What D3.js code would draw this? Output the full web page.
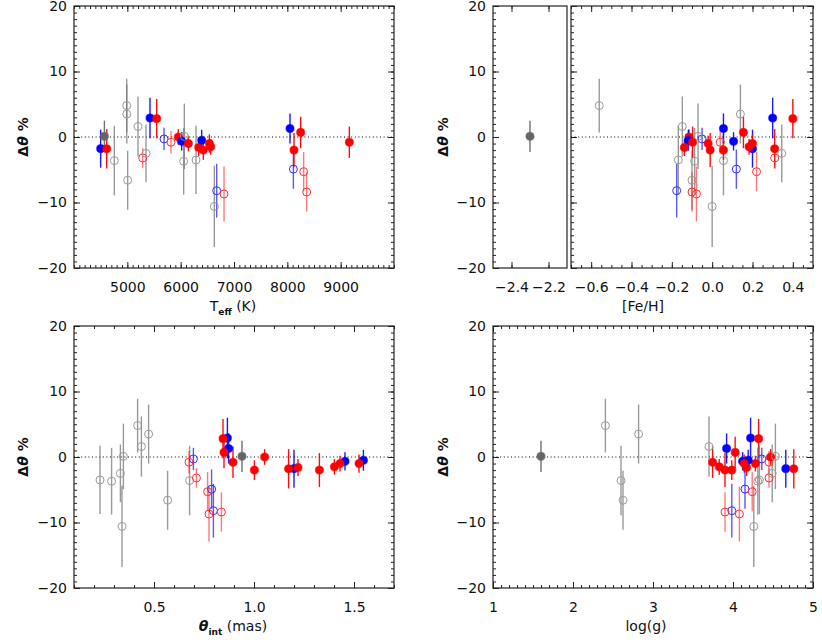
<!DOCTYPE html>
<html>
<head>
<meta charset="utf-8">
<title>delta theta vs stellar parameters</title>
<script src="https://d3js.org/d3.v7.min.js"></script>
<style>
  body { margin: 0; background: #fff; }
  text { font-family: "DejaVu Sans", sans-serif; fill: #111; }
</style>
</head>
<body>
<script>

// one entry per star, same order in every array
var teff   = [4500, 4613, 4570, 4756, 4988, 4990, 5006, 5200, 5288, 5350, 5425, 5550,
              5688, 5819, 5956, 6019, 6069, 6056, 6144, 6288, 6338, 6394, 6425, 6538,
              6563, 6631, 6675, 6813, 8050, 8113, 8125, 8250, 8306, 8363, 9163];
var feh    = [0.20, 0.31, -2.30, 0.056, -0.56, 0.14, -0.10, -0.148, 0.31, 0.345, 0.30, 0.40,
              -0.05, 0.04, -0.115, 0.106, -0.07, -0.087, -0.02, -0.168, -0.138, -0.118, 0.056, 0.20,
              0.183, 0.0, -0.176, -0.078, 0.056, 0.12, -0.01, 0.155, 0.22, -0.10, -0.097];
var thetaInt = [1.20, 1.173, 0.94, 0.678, 0.418, 0.473, 0.568, 0.437, 0.712, 0.332, 0.867, 0.845,
              0.697, 0.675, 1.053, 1.455, 0.347, 0.288, 1.43, 0.23, 1.22, 1.547, 1.002, 1.525,
              1.402, 0.34, 0.797, 0.775, 0.873, 0.788, 1.327, 0.85, 0.768, 0.837, 0.895];
var logg   = [4.66, 4.76, 1.60, 2.60, 2.405, 2.82, 2.625, 3.70, 4.45, 4.49, 4.22, 4.32,
              4.36, 4.45, 4.47, 4.12, 4.53, 4.31, 4.28, 4.33, 4.17, 4.19, 3.985, 4.14,
              3.828, 4.26, 3.985, 4.08, 3.92, 4.15, 3.90, 4.027, 4.24, 3.90, 3.745];
var dtheta = [-1.78, -1.8, 0.1, -3.6, 4.8, 3.5, -6.6, 1.6, -3.2, -2.5, 2.9, 2.8,
              -0.3, -0.8, 0.0, -0.66, 0.1, -3.7, -1.0, -3.5, -1.6, -0.5, -2.0, -1.0,
              -1.5, -10.6, -8.2, -8.7, 1.3, -4.9, -2.0, 0.7, -5.3, -8.4, -0.8];
var dthetaErr = [2.9, 3.0, 2.4, 5.3, 4.1, 4.5, 4.5, 4.6, 1.5, 4.4, 3.1, 3.0,
              1.7, 1.7, 1.2, 1.4, 5.0, 5.1, 1.2, 5.2, 1.3, 1.6, 1.5, 1.4,
              1.2, 6.2, 4.1, 4.2, 2.3, 3.0, 2.6, 2.4, 3.0, 3.0, 2.4];
// rf = red filled, bf = blue filled, gf = grey filled, ro/bo/go = open symbols
var kind   = ["bf", "rf", "gf", "go", "go", "go", "go", "go", "ro", "go", "bf", "rf",
              "bo", "ro", "rf", "bf", "go", "go", "rf", "go", "rf", "bf", "rf", "rf",
              "rf", "go", "bo", "ro", "bf", "bo", "rf", "rf", "ro", "ro", "rf"];

var dTicks = [-20, -10, 0, 10, 20];
var teffTicks = [5000, 6000, 7000, 8000, 9000];
var fehTicksLow = [-2.4, -2.2];
var fehTicksHigh = [-0.6, -0.4, -0.2, 0.0, 0.2, 0.4];
var thetaTicks = [0.5, 1.0, 1.5];
var loggTicks = [1, 2, 3, 4, 5];

var symbol = {
  rf: {fill: "#ff0000", stroke: "#ff0000", bar: "#ff0000", barOp: 0.95},
  bf: {fill: "#0000ff", stroke: "#0000ff", bar: "#0000ff", barOp: 0.9},
  gf: {fill: "#666666", stroke: "#666666", bar: "#707070", barOp: 1},
  ro: {fill: "none", stroke: "#ff3030", bar: "#ff2020", barOp: 0.6},
  bo: {fill: "none", stroke: "#3030ff", bar: "#2020ff", barOp: 0.75},
  go: {fill: "none", stroke: "#999999", bar: "#777777", barOp: 0.75}
};

var svg = d3.select("body").append("svg")
  .attr("width", 822)
  .attr("height", 640);

var idx = d3.range(teff.length);

function minorTicks(domain, step) {
  return d3.range(Math.ceil(domain[0] / step - 1e-6), Math.floor(domain[1] / step + 1e-6) + 1)
    .map(function(i) { return i * step; });
}

// one box of the figure: frame, inward ticks on all sides, points
function panel(opt) {
  var x = d3.scaleLinear().domain(opt.domain).range([opt.left, opt.right]);
  var y = d3.scaleLinear().domain([-20, 20]).range([opt.bottom, opt.top]);
  var g = svg.append("g").attr("color", "#222");
  var minX = minorTicks(opt.domain, opt.minor);
  var minY = minorTicks([-20, 20], 1);

  function axis(gen, tr) {
    var a = g.append("g").attr("transform", tr).call(gen);
    a.select(".domain").remove();
    a.selectAll("line").attr("stroke-width", 1);
    a.selectAll("text").style("font-size", "14px").attr("fill", "#111");
    return a;
  }

  // bottom
  axis(d3.axisBottom(x).tickValues(opt.ticks).tickSize(-6).tickPadding(14)
        .tickFormat(opt.fmt), "translate(0," + opt.bottom + ")");
  axis(d3.axisBottom(x).tickValues(minX).tickSize(-3).tickFormat(""), "translate(0," + opt.bottom + ")");
  // top
  axis(d3.axisTop(x).tickValues(opt.ticks).tickSize(-6).tickFormat(""), "translate(0," + opt.top + ")");
  if (opt.minorTop !== false)
    axis(d3.axisTop(x).tickValues(minX).tickSize(-3).tickFormat(""), "translate(0," + opt.top + ")");
  // left
  if (opt.leftTicks !== false) {
    axis(d3.axisLeft(y).tickValues(dTicks).tickSize(-6).tickPadding(7)
          .tickFormat(opt.yLabels ? d3.format("d") : ""), "translate(" + opt.left + ",0)");
    axis(d3.axisLeft(y).tickValues(minY).tickSize(-3).tickFormat(""), "translate(" + opt.left + ",0)");
  }
  // right
  if (opt.rightTicks !== false) {
    axis(d3.axisRight(y).tickValues(dTicks).tickSize(-6).tickFormat(""), "translate(" + opt.right + ",0)");
    axis(d3.axisRight(y).tickValues(minY).tickSize(-3).tickFormat(""), "translate(" + opt.right + ",0)");
  }

  g.append("rect")
    .attr("x", opt.left).attr("y", opt.top)
    .attr("width", opt.right - opt.left).attr("height", opt.bottom - opt.top)
    .attr("fill", "none").attr("stroke", "#222").attr("stroke-width", 1.2);

  if (opt.zeroLine !== false) {
    g.append("line")
      .attr("x1", opt.left).attr("x2", opt.right)
      .attr("y1", y(0)).attr("y2", y(0))
      .attr("stroke", "#000").attr("stroke-width", 1)
      .attr("stroke-dasharray", "1,2.6");
  }

  var pts = idx.filter(function(i) { return opt.keep(opt.values[i]); });
  var p = g.append("g");

  pts.forEach(function(i) {
    var s = symbol[kind[i]];
    p.append("line")
      .attr("x1", x(opt.values[i])).attr("x2", x(opt.values[i]))
      .attr("y1", y(dtheta[i] - dthetaErr[i])).attr("y2", y(dtheta[i] + dthetaErr[i]))
      .attr("stroke", s.bar).attr("stroke-opacity", s.barOp).attr("stroke-width", 1.4);
  });
  pts.forEach(function(i) {
    var s = symbol[kind[i]];
    p.append("circle")
      .attr("cx", x(opt.values[i])).attr("cy", y(dtheta[i]))
      .attr("r", kind[i].charAt(1) === "f" ? 4.1 : 4)
      .attr("fill", s.fill)
      .attr("stroke", s.stroke)
      .attr("stroke-width", kind[i].charAt(1) === "f" ? 0.5 : 1);
  });
}

function all() { return true; }

panel({left: 74, right: 394, top: 6, bottom: 268, domain: [4000, 10000],
       ticks: teffTicks, minor: 100, fmt: d3.format("d"), values: teff, keep: all, yLabels: true});

panel({left: 493, right: 567, top: 6, bottom: 268, domain: [-2.5, -2.1],
       ticks: fehTicksLow, minor: 0.2, fmt: d3.format(".1f"), values: feh,
       keep: function(v) { return v < -1; }, yLabels: true, rightTicks: false, zeroLine: false});

panel({left: 571, right: 813, top: 6, bottom: 268, domain: [-0.7, 0.5],
       ticks: fehTicksHigh, minor: 0.05, fmt: d3.format(".1f"), values: feh,
       keep: function(v) { return v > -1; }, yLabels: false});

panel({left: 74, right: 394, top: 326, bottom: 588, domain: [0.1, 1.7],
       ticks: thetaTicks, minor: 0.1, fmt: d3.format(".1f"), values: thetaInt, keep: all, yLabels: true});

panel({left: 493, right: 813, top: 326, bottom: 588, domain: [1, 5],
       ticks: loggTicks, minor: 0.1, fmt: d3.format("d"), values: logg, keep: all, yLabels: true});

// axis titles
function yTitle(xp, yp) {
  var t = svg.append("text")
    .attr("transform", "translate(" + xp + "," + yp + ") rotate(-90)")
    .attr("text-anchor", "middle")
    .style("font-size", "14px")
    .style("font-weight", "bold");
  t.append("tspan").text("\u0394");
  t.append("tspan").style("font-style", "italic").text("\u03b8");
  t.append("tspan").text(" %");
}
yTitle(28, 137);
yTitle(448, 137);
yTitle(28, 457);
yTitle(448, 457);

function xTitle(xp, yp, main, sub, rest, greek) {
  var t = svg.append("text")
    .attr("x", xp).attr("y", yp)
    .attr("text-anchor", "middle")
    .style("font-size", "14px");
  var m = t.append("tspan").text(main);
  if (greek) m.style("font-weight", "bold").style("font-style", "italic");
  if (sub) {
    t.append("tspan").attr("dy", 4).style("font-size", "9px").style("font-weight", "bold").text(sub);
    t.append("tspan").attr("dy", -4).text(rest);
  } else if (rest) {
    t.append("tspan").text(rest);
  }
}
xTitle(233, 311, "T", "eff", "  (K)", false);
xTitle(643, 311, "[Fe/H]", null, null, false);
xTitle(233, 631, "\u03b8", "int", "  (mas)", true);
xTitle(646, 631, "log(g)", null, null, false);

</script>
</body>
</html>
